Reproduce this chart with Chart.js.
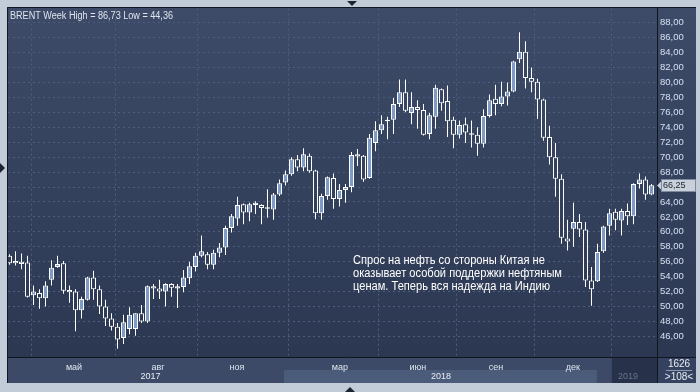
<!DOCTYPE html>
<html lang="ru">
<head>
<meta charset="UTF-8">
<title>BRENT Week</title>
<script src="https://cdn.jsdelivr.net/npm/chart.js"></script>
<style>
  html, body { margin: 0; padding: 0; background: #c2ccd8; }
</style>
</head>
<body>
<canvas id="brent" width="700" height="392"></canvas>
<script>
// weekly candles BRENT, feb 2017 - mar 2019
var opens  = [56.8, 56.1, 56.0, 55.9, 51.5, 51.8, 51.1, 53.6, 55.3, 55.8,
              52.2, 52.0, 49.5, 50.9, 53.9, 52.3, 50.0, 48.4, 47.3, 45.8,
              47.0, 47.0, 49.1, 48.0, 52.7, 52.4, 52.0, 53.0, 52.4, 52.6,
              53.8, 55.3, 56.8, 57.0, 55.6, 57.2, 57.9, 60.5, 61.8, 63.7,
              62.6, 63.6, 63.6, 63.3, 63.0, 65.0, 66.6, 67.7, 69.7, 68.6,
              70.2, 68.2, 62.5, 64.8, 67.2, 64.4, 65.6, 66.0, 70.4, 70.2,
              67.2, 71.9, 73.6, 74.8, 75.0, 77.1, 78.7, 75.9, 76.7, 76.3,
              73.1, 75.4, 79.1, 77.5, 75.0, 73.0, 74.4, 73.2, 73.0, 71.8,
              75.5, 77.8, 77.1, 78.1, 78.8, 83.1, 84.1, 80.6, 80.1, 77.7,
              72.7, 70.0, 67.1, 59.1, 60.4, 61.3, 60.3, 53.5, 53.4, 57.4,
              60.8, 62.7, 61.5, 62.8, 62.1, 66.4, 67.0, 65.0];
var highs  = [57.0, 57.4, 57.1, 56.8, 52.8, 52.3, 53.4, 56.2, 56.8, 56.1,
              52.8, 52.3, 51.3, 54.0, 54.8, 52.8, 50.9, 49.1, 47.8, 48.9,
              49.9, 49.1, 50.2, 52.8, 53.0, 53.6, 53.1, 53.1, 53.0, 54.9,
              56.0, 57.2, 59.5, 57.3, 57.6, 58.5, 60.8, 62.4, 64.7, 63.8,
              63.9, 64.1, 63.7, 65.7, 65.2, 67.0, 68.2, 70.0, 70.3, 71.2,
              70.5, 68.3, 65.1, 67.4, 67.8, 66.4, 66.4, 70.7, 71.1, 70.3,
              73.1, 74.8, 75.6, 75.4, 77.9, 80.4, 80.4, 78.7, 77.6, 77.1,
              75.9, 79.7, 79.2, 79.6, 75.4, 74.9, 75.3, 74.9, 74.0, 76.4,
              78.4, 79.7, 80.1, 80.0, 82.9, 86.73, 85.5, 82.0, 80.5, 77.8,
              74.2, 71.9, 67.7, 61.6, 63.9, 62.4, 61.3, 55.3, 58.4, 60.8,
              63.1, 63.1, 63.1, 63.8, 66.5, 67.8, 67.4, 66.4];
var lows   = [55.6, 55.5, 55.0, 51.2, 50.2, 49.7, 50.0, 52.8, 55.2, 51.7,
              50.5, 46.7, 48.4, 50.8, 50.9, 49.0, 47.4, 46.8, 44.36, 45.0,
              46.3, 46.1, 47.8, 47.8, 51.0, 51.0, 50.0, 51.3, 49.8, 51.9,
              53.0, 54.7, 56.6, 55.0, 55.0, 56.6, 56.9, 59.9, 60.8, 61.0,
              61.4, 62.4, 61.0, 61.9, 61.6, 64.8, 66.2, 67.5, 68.1, 68.1,
              67.9, 61.7, 61.6, 64.3, 63.1, 63.4, 63.9, 65.3, 68.8, 66.7,
              67.1, 70.8, 73.1, 72.4, 73.1, 76.7, 76.0, 74.4, 73.8, 72.9,
              72.4, 73.8, 76.2, 72.7, 71.2, 72.5, 71.9, 71.3, 70.2, 71.3,
              75.3, 75.6, 76.8, 76.9, 78.7, 82.6, 79.2, 78.7, 75.1, 72.2,
              69.0, 64.7, 58.4, 57.5, 58.0, 59.3, 52.6, 50.1, 53.3, 57.2,
              59.5, 60.2, 59.5, 60.9, 61.0, 65.8, 64.3, 64.9];
var closes = [55.8, 55.8, 55.7, 51.3, 52.0, 51.1, 52.8, 55.2, 55.7, 52.1,
              51.9, 49.5, 51.0, 53.9, 52.3, 50.0, 48.4, 47.3, 45.6, 47.9,
              48.9, 49.1, 48.0, 52.7, 52.4, 52.0, 53.0, 52.5, 52.7, 53.9,
              55.4, 56.8, 57.4, 55.6, 57.2, 57.9, 60.5, 62.1, 63.6, 62.6,
              63.7, 63.9, 63.2, 63.1, 65.0, 66.5, 67.7, 69.7, 68.6, 70.4,
              68.1, 62.5, 64.8, 67.3, 64.4, 65.6, 66.0, 70.3, 70.1, 67.0,
              72.6, 73.6, 74.4, 75.0, 77.1, 78.7, 76.2, 76.7, 76.3, 73.0,
              75.6, 79.3, 77.2, 74.8, 73.0, 74.3, 73.3, 73.0, 71.8, 75.5,
              77.6, 77.1, 78.1, 78.8, 82.8, 84.1, 80.6, 80.1, 77.7, 72.6,
              70.0, 67.1, 59.2, 58.7, 61.3, 60.3, 53.5, 52.3, 57.3, 60.7,
              62.5, 61.6, 62.8, 62.1, 66.4, 67.0, 65.0, 66.25];

var priceTicks = [46, 48, 50, 52, 54, 56, 58, 60, 62, 64, 66, 68, 70, 72, 74, 76, 78, 80, 82, 84, 86, 88];
var monthLabels = ['май', 'авг', 'ноя', 'мар', 'июн', 'сен', 'дек'];
var monthPos = [10.75, 24.75, 37.9, 55.08, 68.08, 81.08, 93.9];
var yearLabels = ['2017', '2018', '2019'];
var yearPos = [23.5, 71.9, 103.1];
var yearFrom = [-0.25, 45.75, 100.4];
var yearTo = [45.75, 97.9, 107.92];

var title = 'BRENT Week High = 86,73 Low = 44,36';
var note = ['Спрос на нефть со стороны Китая не',
            'оказывает особой поддержки нефтяным',
            'ценам. Теперь вся надежда на Индию'];

var upColor = '#7f9bc8';
var gridColor = '#4e5d7c';
var FONT = 'Liberation Sans';

var bodyData = [];
var wickData = [];
for (let i = 0; i < opens.length; i++) {
  bodyData.push({ x: i, y: [Math.min(opens[i], closes[i]), Math.max(opens[i], closes[i])] });
  wickData.push({ x: i, y: [lows[i], highs[i]] });
}

var bgGrad = null;
function plotGradient(chart) {
  if (!bgGrad) {
    bgGrad = chart.ctx.createLinearGradient(0, 7, 0, 357);
    bgGrad.addColorStop(0, '#3d4b68');
    bgGrad.addColorStop(1, '#2c3852');
  }
  return bgGrad;
}

function tri(ctx, pts, color) {
  ctx.fillStyle = color;
  ctx.beginPath();
  ctx.moveTo(pts[0], pts[1]);
  ctx.lineTo(pts[2], pts[3]);
  ctx.lineTo(pts[4], pts[5]);
  ctx.closePath();
  ctx.fill();
}

// the original font is narrower than Liberation, squeeze text a bit
function narrowText(ctx, text, x, y, sx) {
  ctx.save();
  ctx.translate(x, y);
  ctx.scale(sx, 1);
  ctx.fillText(text, 0, 0);
  ctx.restore();
}

const framePlugin = {
  id: 'frame',
  beforeDraw(chart) {
    const ctx = chart.ctx;
    const xs = chart.scales.x;
    ctx.save();
    ctx.fillStyle = '#c2ccd8';
    ctx.fillRect(0, 0, 700, 392);
    ctx.fillStyle = plotGradient(chart);
    ctx.fillRect(7, 7, 689, 350);
    // bottom time panel
    ctx.fillStyle = '#3c4a68';
    ctx.fillRect(7, 357, 689, 26);
    ctx.fillStyle = '#4b5b7a';
    ctx.fillRect(xs.getPixelForValue(yearFrom[1]), 370, xs.getPixelForValue(yearTo[1]) - xs.getPixelForValue(yearFrom[1]), 13);
    ctx.fillStyle = '#273149';
    ctx.fillRect(xs.getPixelForValue(yearFrom[2]), 358, xs.getPixelForValue(yearTo[2]) - xs.getPixelForValue(yearFrom[2]), 25);
    ctx.fillStyle = '#34425f';
    ctx.fillRect(657, 357, 39, 26);
    ctx.restore();
  },
  afterDraw(chart) {
    const ctx = chart.ctx;
    const xs = chart.scales.x;
    const ys = chart.scales.y;
    ctx.save();
    // borders
    ctx.strokeStyle = '#10151f';
    ctx.lineWidth = 1;
    ctx.beginPath();
    ctx.moveTo(7.5, 383); ctx.lineTo(7.5, 7.5); ctx.lineTo(696, 7.5);
    ctx.moveTo(7, 357.5); ctx.lineTo(696, 357.5);
    ctx.moveTo(657.5, 7); ctx.lineTo(657.5, 383);
    ctx.stroke();

    // title
    ctx.fillStyle = '#dfe5ee';
    ctx.font = '10px "' + FONT + '"';
    ctx.textBaseline = 'alphabetic';
    ctx.textAlign = 'left';
    narrowText(ctx, title, 10, 18.5, 163 / ctx.measureText(title).width);

    // comment
    ctx.fillStyle = '#ffffff';
    ctx.font = '12px "' + FONT + '"';
    let sx = 209 / ctx.measureText(note[1]).width;
    note.forEach((line, k) => narrowText(ctx, line, 353, 264 + k * 13, sx));

    // years
    ctx.font = '9px "' + FONT + '"';
    ctx.textAlign = 'center';
    ctx.textBaseline = 'middle';
    yearLabels.forEach((y, k) => {
      ctx.fillStyle = k == 2 ? '#66748f' : '#e8edf4';
      ctx.fillText(y, xs.getPixelForValue(yearPos[k]), 377);
    });

    // counters bottom right
    ctx.fillStyle = '#e8edf4';
    ctx.font = '10px "' + FONT + '"';
    ctx.fillText('1626', 679, 364);
    ctx.fillText('>108<', 679, 377);
    ctx.strokeStyle = '#8d9ab0';
    ctx.beginPath();
    ctx.moveTo(666, 370.5); ctx.lineTo(692, 370.5);
    ctx.stroke();

    // last price label
    const last = closes[closes.length - 1];
    const py = Math.round(ys.getPixelForValue(last));
    ctx.fillStyle = '#c9d0d9';
    ctx.fillRect(661, py - 6, 35, 13);
    ctx.strokeStyle = '#7e8aa0';
    ctx.strokeRect(661.5, py - 5.5, 34, 12);
    tri(ctx, [657, py + 0.5, 661, py - 3.5, 661, py + 4.5], '#c9d0d9');
    ctx.fillStyle = '#1b2334';
    ctx.textAlign = 'left';
    ctx.font = '9px "' + FONT + '"';
    ctx.fillText(last.toFixed(2).replace('.', ','), 663, py + 1);

    // little arrows on frame
    tri(ctx, [347, 1, 357, 1, 352, 6], '#1c2333');
    tri(ctx, [345, 392, 355, 392, 350, 387], '#1c2333');
    tri(ctx, [0, 163, 0, 173, 5, 168], '#1c2333');
    ctx.restore();
  }
};

new Chart(document.getElementById('brent'), {
  type: 'bar',
  data: {
    datasets: [{
      label: 'body',
      data: bodyData,
      order: 0,
      barThickness: 5,
      borderWidth: 1,
      borderColor: '#ffffff',
      borderSkipped: false,
      inflateAmount: 0,
      backgroundColor: (c) => {
        const i = c.dataIndex;
        if (i === undefined) return upColor;
        return closes[i] >= opens[i] ? upColor : plotGradient(c.chart);
      }
    }, {
      label: 'wick',
      data: wickData,
      order: 1,
      barThickness: 1,
      borderWidth: 0,
      inflateAmount: 0,
      backgroundColor: '#ffffff'
    }]
  },
  options: {
    responsive: false,
    animation: false,
    events: [],
    layout: { padding: { left: 8, top: 8, right: 4, bottom: 9 } },
    datasets: { bar: { grouped: false } },
    plugins: { legend: { display: false }, tooltip: { enabled: false } },
    scales: {
      x: {
        type: 'linear',
        min: -0.25,
        max: 107.92,
        offset: false,
        afterBuildTicks: (s) => { s.ticks = monthPos.map(v => ({ value: v })); },
        afterFit: (s) => { s.height = 26; },
        grid: { color: gridColor, drawTicks: false },
        border: { display: false, dash: [2, 3] },
        ticks: {
          callback: (v, i) => monthLabels[i],
          color: '#dfe6ef',
          font: { family: FONT, size: 9 },
          padding: 5,
          maxRotation: 0,
          autoSkip: false
        }
      },
      y: {
        position: 'right',
        min: 43.243,
        max: 89.87,
        afterBuildTicks: (s) => { s.ticks = priceTicks.map(v => ({ value: v })); },
        afterFit: (s) => { s.width = 39; },
        grid: { color: gridColor, drawTicks: false },
        border: { display: false, dash: [2, 3] },
        ticks: {
          callback: (v) => v.toFixed(2).replace('.', ','),
          color: '#d3e0f2',
          font: { family: FONT, size: 9.5 },
          padding: 3
        }
      }
    }
  },
  plugins: [framePlugin]
});
</script>
</body>
</html>
